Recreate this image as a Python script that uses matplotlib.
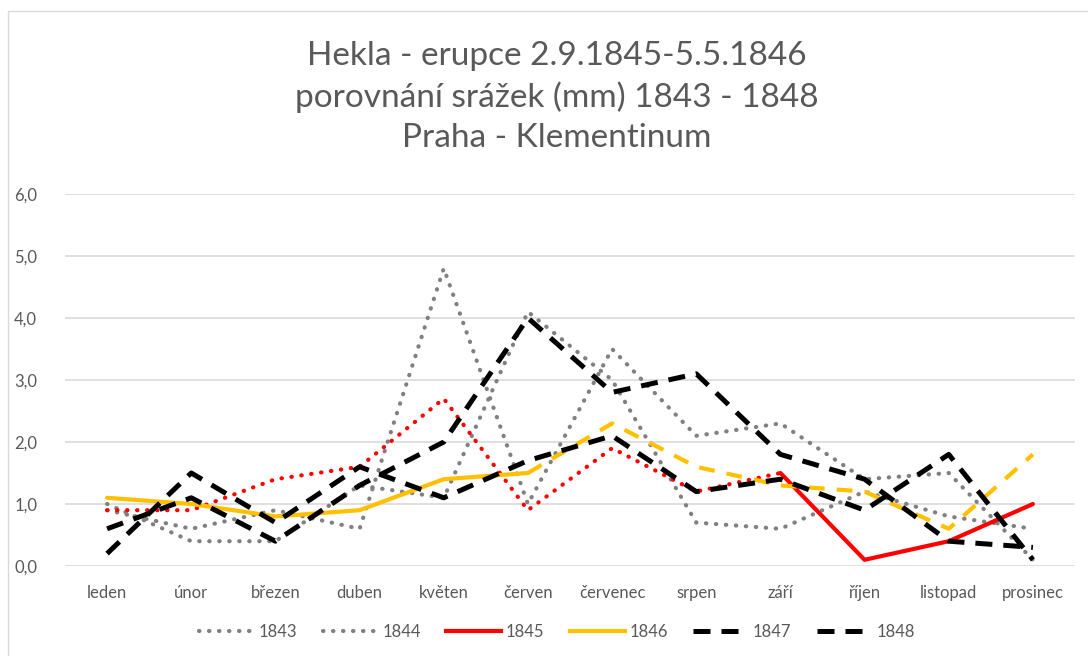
import matplotlib
matplotlib.use("Agg")
import matplotlib.pyplot as plt
from matplotlib.lines import Line2D
from matplotlib.patches import Rectangle
import numpy as np

plt.rcParams['font.family'] = ['Lato', 'DejaVu Sans']

months = ["leden", "únor", "březen", "duben", "květen", "červen",
          "červenec", "srpen", "září", "říjen", "listopad", "prosinec"]
y1843 = [1.0, 0.4, 0.4, 1.3, 1.1, 4.1, 3.0, 0.7, 0.6, 1.2, 0.8, 0.6]
y1844 = [0.9, 0.6, 0.9, 0.6, 4.8, 1.0, 3.5, 2.1, 2.3, 1.4, 1.5, 0.1]
y1845 = [0.9, 0.9, 1.4, 1.6, 2.7, 0.9, 1.9, 1.2, 1.5, 0.1, 0.4, 1.0]
y1846 = [1.1, 1.0, 0.8, 0.9, 1.4, 1.5, 2.3, 1.6, 1.3, 1.2, 0.6, 1.8]
y1847 = [0.2, 1.5, 0.7, 1.6, 1.1, 1.7, 2.1, 1.2, 1.4, 0.9, 1.8, 0.1]
y1848 = [0.6, 1.1, 0.4, 1.3, 2.0, 4.0, 2.8, 3.1, 1.8, 1.4, 0.4, 0.3]
years = ["1843", "1844", "1845", "1846", "1847", "1848"]

# segment switch points (eruption 2.9.1845 - 5.5.1846)
red_switch = 8     # září
yellow_switch = 5  # červen

TXT = "#595959"
GREY = "#808080"
RED = "#FF0000"
YELLOW = "#FFC000"

dot = dict(ls=(0, (0.1, 2.3)), dash_capstyle='round', lw=3)
dash_k = dict(ls=(0, (3.4, 2.2)), dash_capstyle='butt', lw=3.6)
dash_y = dict(ls=(0, (3.8, 2.9)), dash_capstyle='butt', lw=3)

fig = plt.figure(figsize=(10.88, 6.56), dpi=100)
fig.patches.append(Rectangle((8 / 1088, -0.1), 1.2, 1 - 11 / 656 + 0.1,
                             transform=fig.transFigure, fill=False,
                             ec="#d9d9d9", lw=1))
ax = fig.add_axes([65 / 1088, 90 / 656, 1010 / 1088, 372 / 656])

x = np.arange(len(months))
ax.plot(x, y1843, color=GREY, **dot)
ax.plot(x, y1844, color=GREY, **dot)
ax.plot(x[:red_switch + 1], y1845[:red_switch + 1], color=RED, **dot)
ax.plot(x[red_switch:], y1845[red_switch:], color=RED, lw=3, solid_capstyle='round')
ax.plot(x[:yellow_switch + 1], y1846[:yellow_switch + 1], color=YELLOW, lw=3,
        solid_capstyle='round')
ax.plot(x[yellow_switch:], y1846[yellow_switch:], color=YELLOW, **dash_y)
ax.plot(x, y1847, color="black", **dash_k)
ax.plot(x, y1848, color="black", **dash_k)

ax.set_xlim(-0.5, 11.5)
ax.set_ylim(0, 6)
ax.set_yticks(np.arange(0, 7, 1))
ax.set_yticklabels([f"{v:.1f}".replace(".", ",") for v in range(7)])
ax.set_xticks(x)
ax.set_xticklabels(months)
ax.tick_params(length=0, labelsize=12, colors=TXT)
ax.tick_params(axis='y', pad=20)
ax.tick_params(axis='x', pad=14)
ax.grid(axis='y', color="#d9d9d9", lw=1.2)
ax.set_axisbelow(True)
for s in ax.spines.values():
    s.set_visible(False)

fig.text(557 / 1088, 1 - 97 / 656,
         "Hekla - erupce 2.9.1845-5.5.1846\nporovnání srážek (mm) 1843 - 1848\nPraha - Klementinum",
         ha='center', va='center', fontsize=24, color=TXT, linespacing=1.42)

handles = [
    Line2D([], [], color=GREY, **dot),
    Line2D([], [], color=GREY, **dot),
    Line2D([], [], color=RED, lw=3),
    Line2D([], [], color=YELLOW, lw=3),
    Line2D([], [], color="black", **dash_k),
    Line2D([], [], color="black", **dash_k),
]
leg = fig.legend(handles, years, loc='center', bbox_to_anchor=(557 / 1088, 1 - 632 / 656),
                 ncol=6, frameon=False, fontsize=12, handlelength=3.3,
                 handletextpad=0.3, columnspacing=1.5)
for t in leg.get_texts():
    t.set_color(TXT)

fig.savefig("out.png", dpi=100)
